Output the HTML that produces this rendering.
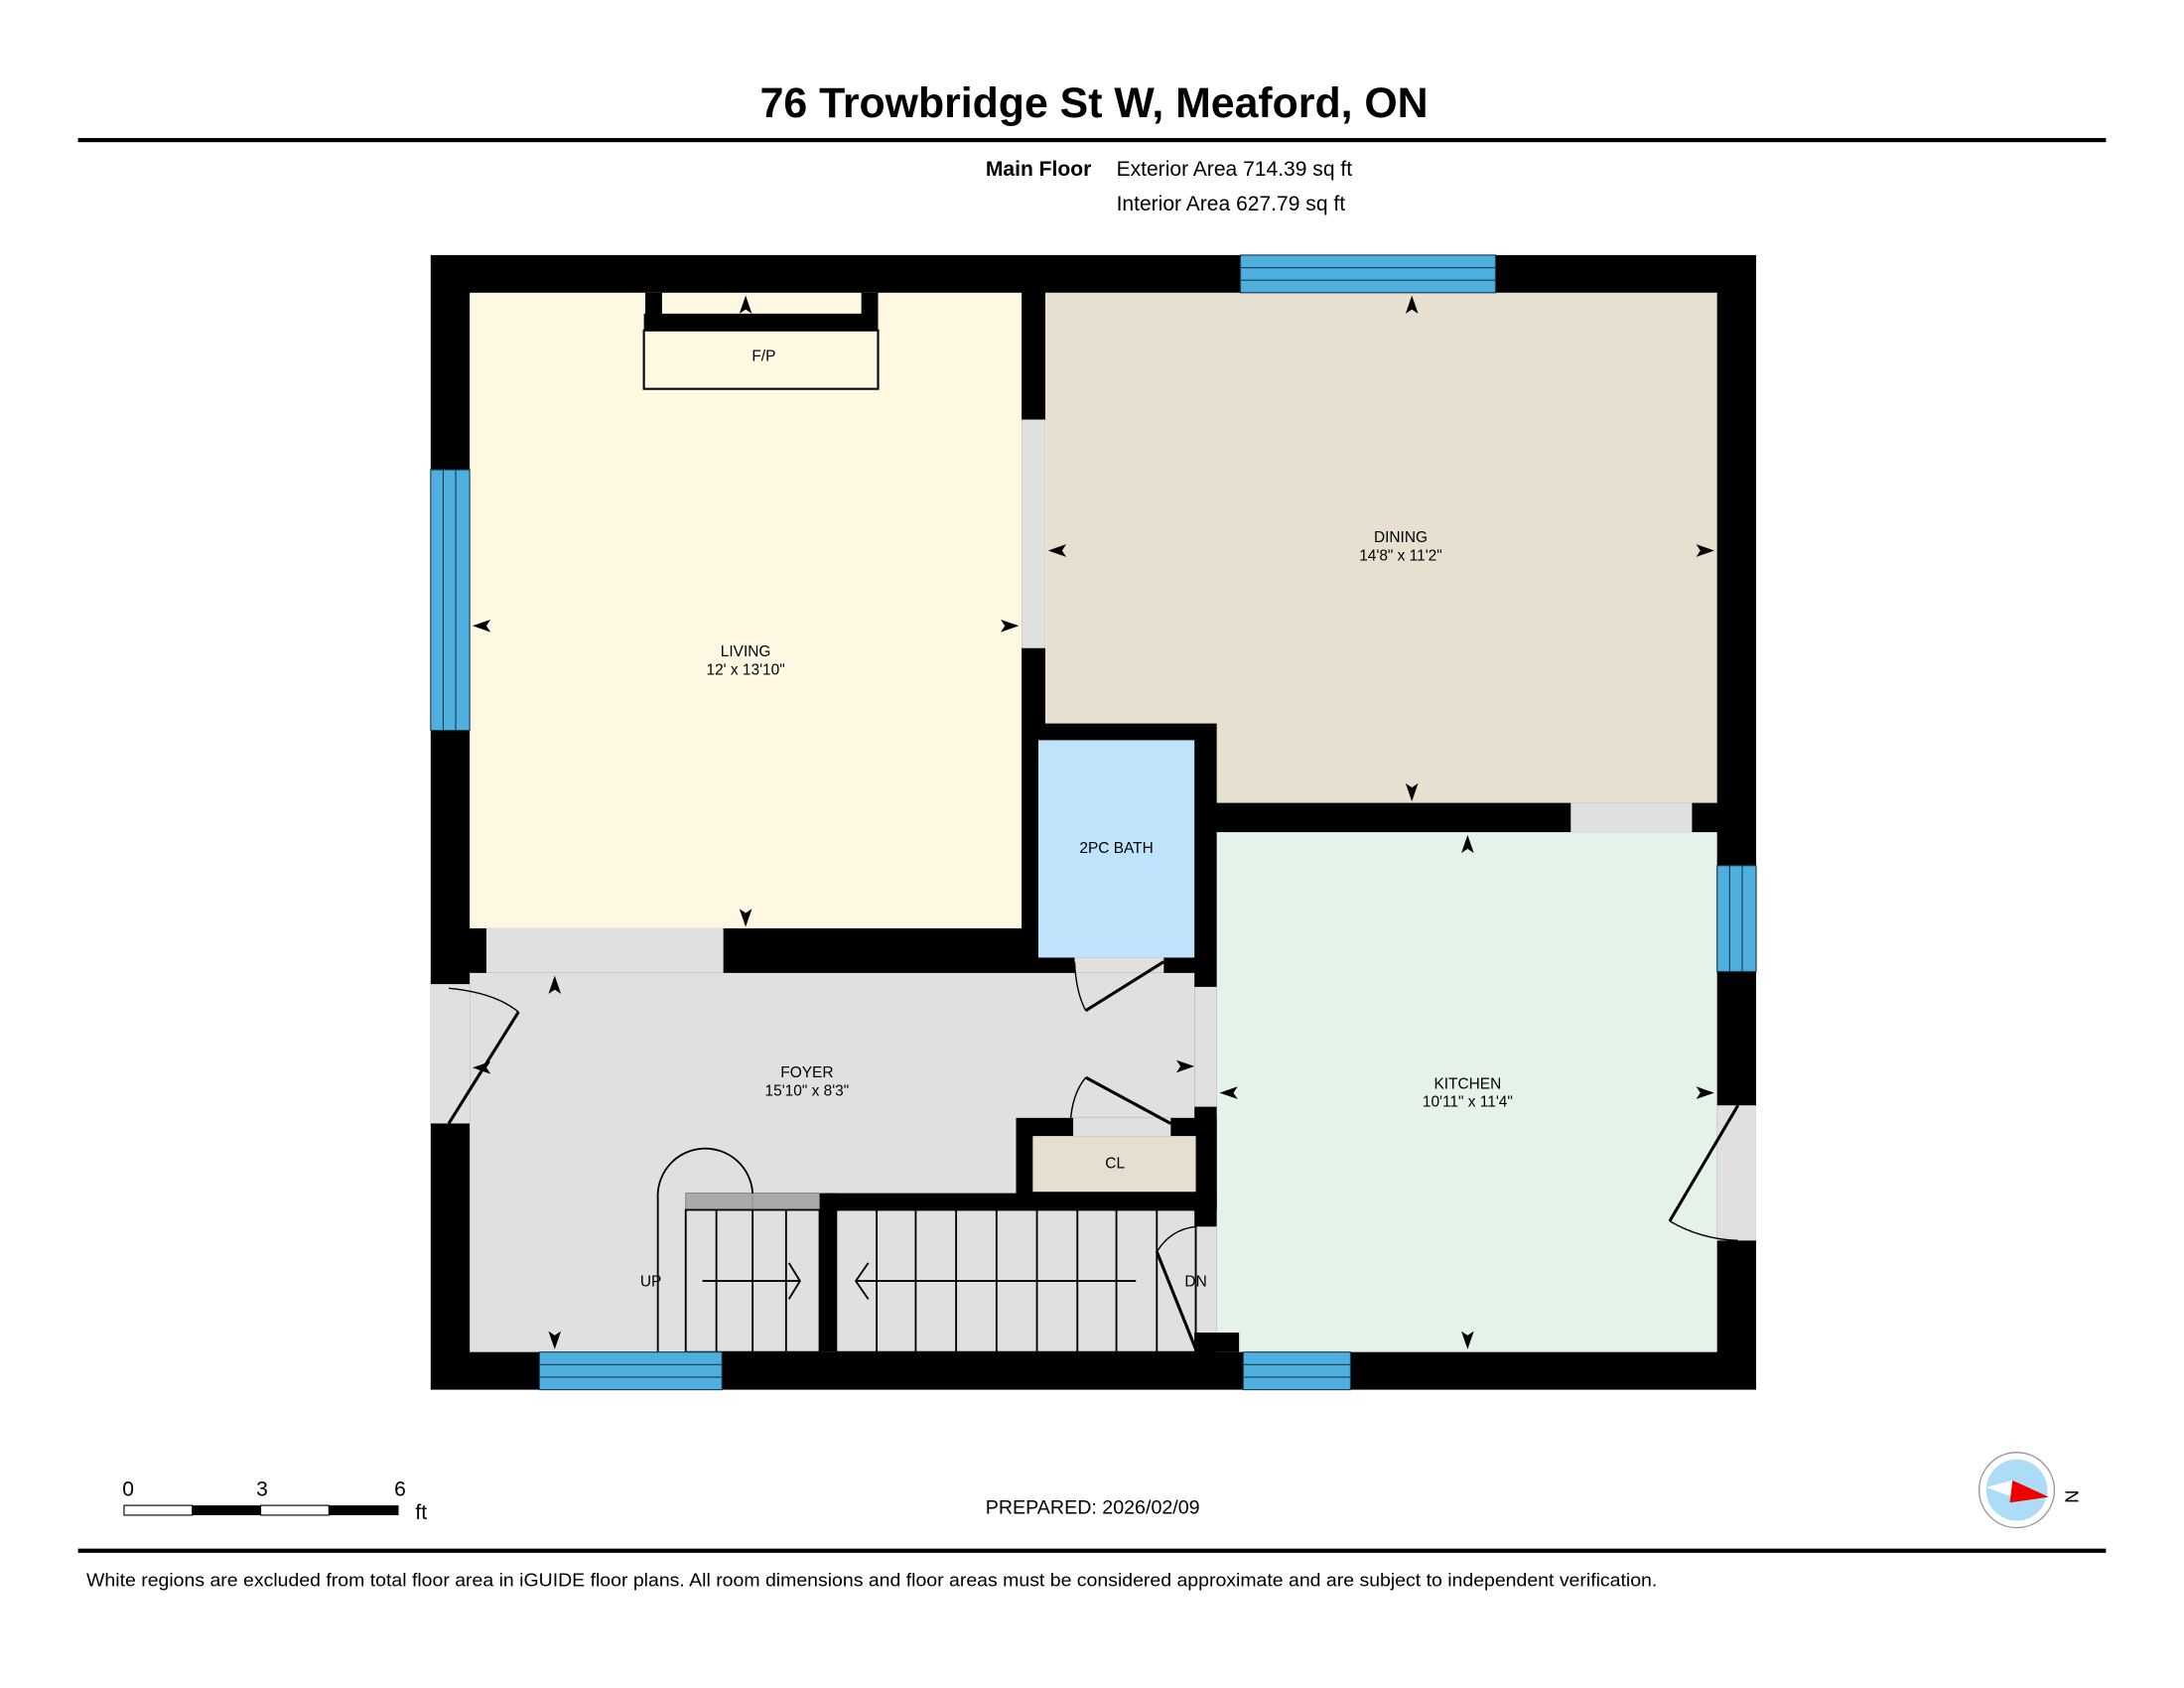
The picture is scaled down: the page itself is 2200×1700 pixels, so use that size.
<!DOCTYPE html>
<html><head><meta charset="utf-8"><style>
html,body{margin:0;padding:0;background:#fff;}
svg{display:block;}
text{font-family:"Liberation Sans",Arial,sans-serif;fill:#000;}
</style></head><body>
<svg width="2200" height="1700" viewBox="0 0 1567 1211" preserveAspectRatio="none" xmlns="http://www.w3.org/2000/svg">
<defs>
<path id="ah" d="M0,0 L-4.5,13 L0,10 L4.5,13Z" fill="#000"/>
</defs>
<rect width="1567" height="1211" fill="#fff"/>
<text x="785" y="84" font-size="30.5" font-weight="bold" text-anchor="middle">76 Trowbridge St W, Meaford, ON</text>
<rect x="56" y="99" width="1455" height="3" fill="#000"/>
<text x="783" y="126" font-size="15" font-weight="bold" text-anchor="end">Main Floor</text>
<text x="801" y="126" font-size="15">Exterior Area 714.39 sq ft</text>
<text x="801" y="151" font-size="15">Interior Area 627.79 sq ft</text>

<rect x="309" y="183" width="951" height="814" fill="#000"/>
<rect x="337" y="210" width="396" height="456" fill="#fef8e3"/>
<path d="M750,210 H1232 V576 H873 V519 H750Z" fill="#e7dfd0"/>
<rect x="733" y="301" width="17" height="164" fill="#e0e0e0"/>
<rect x="745" y="531" width="112" height="156" fill="#bfe3fb"/>
<rect x="873" y="597" width="359" height="373" fill="#e4f2ea"/>
<rect x="1127" y="576" width="87" height="21" fill="#e0e0e0"/>
<rect x="337" y="698" width="520" height="272" fill="#e0e0e0"/>
<rect x="349" y="666" width="170" height="32" fill="#e0e0e0"/>
<rect x="771" y="687" width="64" height="11" fill="#e0e0e0"/>
<rect x="857" y="708" width="16" height="86" fill="#e0e0e0"/>
<rect x="857" y="880" width="16" height="76" fill="#e0e0e0"/>
<rect x="309" y="706" width="28" height="100" fill="#e0e0e0"/>
<rect x="1232" y="793" width="28" height="97" fill="#e0e0e0"/>
<rect x="729" y="802" width="144" height="66" fill="#000"/>
<rect x="770" y="802" width="70" height="13" fill="#e0e0e0"/>
<rect x="741" y="815" width="117" height="40" fill="#e6dfd1"/>
<rect x="592" y="856" width="281" height="12" fill="#000"/>
<rect x="588" y="856" width="12" height="114" fill="#000"/>
<rect x="492" y="856" width="96" height="12" fill="#aaa" stroke="#666" stroke-width="0.5"/>
<line x1="540" y1="856" x2="540" y2="868" stroke="#888" stroke-width="0.6"/>
<rect x="857" y="956" width="32" height="14" fill="#000"/>
<g stroke="#000" stroke-width="1.3" fill="none">
<rect x="492" y="868" width="96" height="102"/>
<line x1="514" y1="868" x2="514" y2="970"/><line x1="540" y1="868" x2="540" y2="970"/><line x1="564" y1="868" x2="564" y2="970"/>
<rect x="600" y="868" width="258" height="102"/>
<line x1="629" y1="868" x2="629" y2="970"/><line x1="657" y1="868" x2="657" y2="970"/><line x1="686" y1="868" x2="686" y2="970"/><line x1="715" y1="868" x2="715" y2="970"/><line x1="744" y1="868" x2="744" y2="970"/><line x1="773" y1="868" x2="773" y2="970"/><line x1="801" y1="868" x2="801" y2="970"/><line x1="830" y1="868" x2="830" y2="970"/>
<line x1="504" y1="919" x2="574" y2="919"/><polyline points="566,906 574,919 566,932"/>
<line x1="614" y1="919" x2="815" y2="919"/><polyline points="623,906 614,919 623,932"/>
<path d="M472,970 L472,860 A34,34 0 0 1 540,856"/>
</g>
<g fill="#4fb0e0" stroke="#1a3a50" stroke-width="0.8">
<rect x="890" y="183" width="183" height="27"/><line x1="890" y1="192" x2="1073" y2="192"/><line x1="890" y1="201" x2="1073" y2="201"/>
<rect x="309" y="337" width="28" height="187"/><line x1="318" y1="337" x2="318" y2="524"/><line x1="327" y1="337" x2="327" y2="524"/>
<rect x="1232" y="621" width="28" height="76"/><line x1="1241" y1="621" x2="1241" y2="697"/><line x1="1250" y1="621" x2="1250" y2="697"/>
<rect x="387" y="970" width="131" height="27"/><line x1="387" y1="979" x2="518" y2="979"/><line x1="387" y1="988" x2="518" y2="988"/>
<rect x="892" y="970" width="77" height="27"/><line x1="892" y1="979" x2="969" y2="979"/><line x1="892" y1="988" x2="969" y2="988"/>
</g>
<rect x="462" y="237" width="168" height="42" fill="#fef8e3" stroke="#000" stroke-width="1.5"/>
<rect x="462" y="225" width="168" height="12" fill="#000"/>
<rect x="463" y="210" width="12" height="20" fill="#000"/>
<rect x="618" y="210" width="12" height="20" fill="#000"/>
<text x="548" y="259" font-size="11" text-anchor="middle">F/P</text>
<g stroke="#000" fill="none">
<line x1="322" y1="806" x2="372" y2="726" stroke-width="2.2"/><path d="M322,709 Q355,712 372,726" stroke-width="1"/>
<line x1="835" y1="690" x2="779" y2="725" stroke-width="2.2"/><path d="M771,690 Q772,712 779,725" stroke-width="1"/>
<line x1="840" y1="806" x2="779" y2="773" stroke-width="2.2"/><path d="M768,806 Q769,785 779,773" stroke-width="1"/>
<line x1="858" y1="968" x2="830" y2="898" stroke-width="2.2"/><path d="M830,898 Q840,882 858,880" stroke-width="1"/>
<line x1="1247" y1="793" x2="1198" y2="876" stroke-width="2.2"/><path d="M1198,876 Q1220,889 1247,890" stroke-width="1"/>
</g>
<use href="#ah" transform="translate(535,212)"/>
<use href="#ah" transform="translate(535,665) rotate(180)"/>
<use href="#ah" transform="translate(339,449) rotate(270)"/>
<use href="#ah" transform="translate(731,449) rotate(90)"/>
<use href="#ah" transform="translate(1013,212)"/>
<use href="#ah" transform="translate(1013,575) rotate(180)"/>
<use href="#ah" transform="translate(752,395) rotate(270)"/>
<use href="#ah" transform="translate(1230,395) rotate(90)"/>
<use href="#ah" transform="translate(1053,599)"/>
<use href="#ah" transform="translate(1053,968) rotate(180)"/>
<use href="#ah" transform="translate(875,784) rotate(270)"/>
<use href="#ah" transform="translate(1230,784) rotate(90)"/>
<use href="#ah" transform="translate(398,700)"/>
<use href="#ah" transform="translate(398,968) rotate(180)"/>
<use href="#ah" transform="translate(339,766) rotate(270)"/>
<use href="#ah" transform="translate(857,765) rotate(90)"/>
<g font-size="11" text-anchor="middle">
<text x="535" y="471">LIVING</text><text x="535" y="484">12' x 13'10"</text>
<text x="1005" y="389">DINING</text><text x="1005" y="402">14'8" x 11'2"</text>
<text x="801" y="612">2PC BATH</text>
<text x="1053" y="781">KITCHEN</text><text x="1053" y="794">10'11" x 11'4"</text>
<text x="579" y="773">FOYER</text><text x="579" y="786">15'10" x 8'3"</text>
<text x="800" y="838">CL</text>
<text x="467" y="923">UP</text>
<text x="858" y="923">DN</text>
</g>
<text x="92" y="1073" font-size="15" text-anchor="middle">0</text>
<text x="188" y="1073" font-size="15" text-anchor="middle">3</text>
<text x="287" y="1073" font-size="15" text-anchor="middle">6</text>
<text x="298" y="1090" font-size="15">ft</text>
<rect x="89" y="1080" width="49" height="7" fill="#fff" stroke="#000" stroke-width="0.8"/>
<rect x="138" y="1080" width="49" height="7" fill="#000"/>
<rect x="187" y="1080" width="49" height="7" fill="#fff" stroke="#000" stroke-width="0.8"/>
<rect x="236" y="1080" width="50" height="7" fill="#000"/>
<text x="784" y="1086" font-size="14" text-anchor="middle">PREPARED: 2026/02/09</text>
<circle cx="1447" cy="1069" r="27" fill="#fff" stroke="#999" stroke-width="1"/>
<circle cx="1447" cy="1069" r="22" fill="#addcf7"/>
<polygon points="1425,1067 1444,1062 1444,1074" fill="#fff"/>
<polygon points="1444,1062 1470,1074 1442,1078" fill="#e00"/>
<text x="1479" y="1074" font-size="13" transform="rotate(90 1483 1073)">N</text>
<rect x="56" y="1111" width="1455" height="3" fill="#000"/>
<text x="62" y="1138" font-size="13" textLength="1127" lengthAdjust="spacingAndGlyphs">White regions are excluded from total floor area in iGUIDE floor plans. All room dimensions and floor areas must be considered approximate and are subject to independent verification.</text>
</svg>
</body></html>
